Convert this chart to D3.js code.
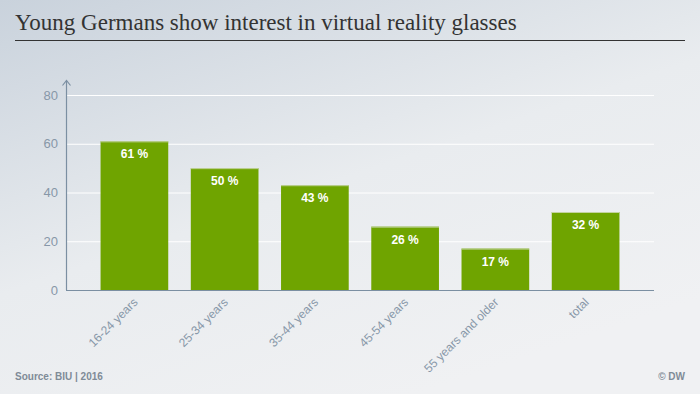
<!DOCTYPE html>
<html>
<head>
<meta charset="utf-8">
<script src="https://cdn.jsdelivr.net/npm/d3@7"></script>
<style>
  body { margin: 0; }
  svg { display: block; }
</style>
</head>
<body>
<svg id="chart" width="700" height="394"></svg>
<script>
// data
const categories = ['16-24 years', '25-34 years', '35-44 years', '45-54 years', '55 years and older', 'total'];
const values = [61, 50, 43, 26, 17, 32];
const yTicks = [0, 20, 40, 60, 80];

const svg = d3.select('#chart');

// background gradient
const defs = svg.append('defs');
const grad = defs.append('linearGradient')
  .attr('id', 'bg')
  .attr('x1', '0%').attr('y1', '0%')
  .attr('x2', '60%').attr('y2', '100%');
grad.append('stop').attr('offset', '0%').attr('stop-color', '#c9d2dc');
grad.append('stop').attr('offset', '55%').attr('stop-color', '#e9ecef');
grad.append('stop').attr('offset', '100%').attr('stop-color', '#f0f1f3');

svg.append('rect')
  .attr('width', 700).attr('height', 394)
  .attr('fill', 'url(#bg)');

// title
svg.append('text')
  .attr('x', 15).attr('y', 30)
  .attr('font-family', 'Liberation Serif, serif')
  .attr('font-size', 23)
  .attr('fill', '#333')
  .text('Young Germans show interest in virtual reality glasses');

svg.append('line')
  .attr('x1', 15).attr('x2', 685)
  .attr('y1', 40.5).attr('y2', 40.5)
  .attr('stroke', '#333').attr('stroke-width', 1);

// scales
const x = d3.scaleBand()
  .domain(categories)
  .range([78, 642])
  .padding(0.25);

const y = d3.scaleLinear()
  .domain([0, 80])
  .range([290, 95]);

const axisColor = '#7b8fa2';
const textColor = '#8797a8';

// grid lines
svg.append('g')
  .selectAll('line')
  .data(yTicks.filter(d => d > 0))
  .enter().append('line')
  .attr('x1', 66).attr('x2', 654)
  .attr('y1', d => y(d) + 0.5).attr('y2', d => y(d) + 0.5)
  .attr('stroke', '#fff').attr('stroke-width', 1);

// y axis
const yAxis = svg.append('g')
  .attr('transform', 'translate(66,0)')
  .call(d3.axisLeft(y).tickValues(yTicks).tickSize(0).tickPadding(8));
yAxis.select('.domain').remove();
yAxis.selectAll('text')
  .attr('font-family', 'Liberation Sans, Arial, sans-serif')
  .attr('font-size', 13)
  .attr('fill', textColor);

svg.append('line')
  .attr('x1', 66.5).attr('x2', 66.5)
  .attr('y1', 290).attr('y2', 81)
  .attr('stroke', axisColor).attr('stroke-width', 1.2);
svg.append('path')
  .attr('d', 'M62.5,85.5 L66.5,80.5 L70.5,85.5')
  .attr('fill', 'none')
  .attr('stroke', axisColor).attr('stroke-width', 1.2);

// bars
svg.append('g')
  .selectAll('rect')
  .data(values)
  .enter().append('rect')
  .attr('x', (d, i) => x(categories[i]))
  .attr('y', d => y(d))
  .attr('width', x.bandwidth())
  .attr('height', d => y(0) - y(d))
  .attr('fill', '#6fa400');

// light top edge
svg.append('g')
  .selectAll('line')
  .data(values)
  .enter().append('line')
  .attr('x1', (d, i) => x(categories[i]))
  .attr('x2', (d, i) => x(categories[i]) + x.bandwidth())
  .attr('y1', d => y(d) + 0.5).attr('y2', d => y(d) + 0.5)
  .attr('stroke', '#c3d3a0').attr('stroke-width', 1);

// value labels
svg.append('g')
  .selectAll('text')
  .data(values)
  .enter().append('text')
  .attr('x', (d, i) => x(categories[i]) + x.bandwidth() / 2)
  .attr('y', d => y(d) + 17)
  .attr('text-anchor', 'middle')
  .attr('font-family', 'Liberation Sans, Arial, sans-serif')
  .attr('font-weight', 'bold')
  .attr('font-size', 12)
  .attr('fill', '#fff')
  .text(d => d + ' %');

// x axis line
svg.append('line')
  .attr('x1', 66).attr('x2', 654)
  .attr('y1', 290.5).attr('y2', 290.5)
  .attr('stroke', axisColor).attr('stroke-width', 1.2);

// category labels
svg.append('g')
  .selectAll('text')
  .data(categories)
  .enter().append('text')
  .attr('transform', d => `translate(${x(d) + x.bandwidth() / 2 + 4},${303}) rotate(-45)`)
  .attr('text-anchor', 'end')
  .attr('font-family', 'Liberation Sans, Arial, sans-serif')
  .attr('font-size', 12)
  .attr('fill', textColor)
  .text(d => d);

// footer
svg.append('text')
  .attr('x', 15).attr('y', 380)
  .attr('font-family', 'Liberation Sans, Arial, sans-serif')
  .attr('font-weight', 'bold')
  .attr('font-size', 10)
  .attr('fill', '#7f8b97')
  .text('Source: BIU | 2016');

svg.append('text')
  .attr('x', 685).attr('y', 380)
  .attr('text-anchor', 'end')
  .attr('font-family', 'Liberation Sans, Arial, sans-serif')
  .attr('font-weight', 'bold')
  .attr('font-size', 10)
  .attr('fill', '#7f8b97')
  .text('© DW');
</script>
</body>
</html>
